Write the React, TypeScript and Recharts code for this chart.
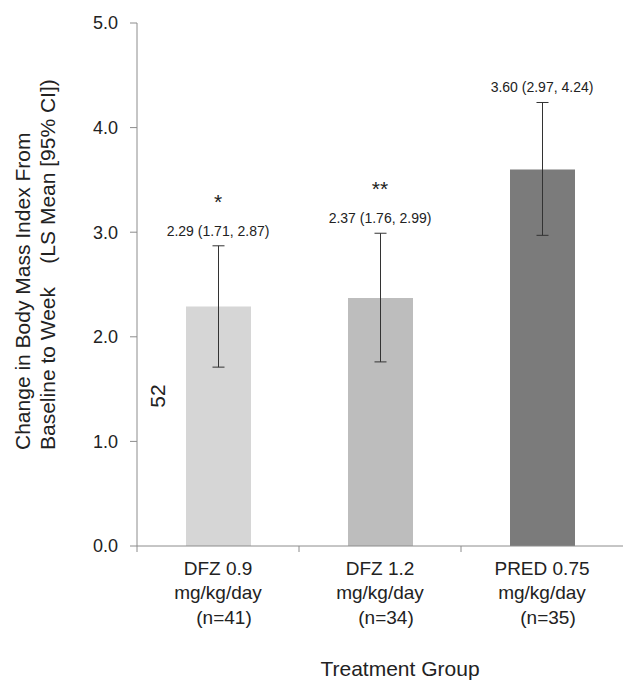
import { ComposedChart, Bar, Line, XAxis, YAxis, ErrorBar, Cell, LabelList } from "recharts";

const groups = ["DFZ 0.9", "DFZ 1.2", "PRED 0.75"];
const doses = ["mg/kg/day", "mg/kg/day", "mg/kg/day"];
const nCounts = [41, 34, 35];
const means = [2.29, 2.37, 3.6];
const lower = [1.71, 1.76, 2.97];
const upper = [2.87, 2.99, 4.24];
const stars = ["*", "**", ""];
const yTicks = [0, 1, 2, 3, 4, 5];
const barColors = ["#d6d6d6", "#bdbdbd", "#7b7b7b"];

const data = groups.map((g, i) => ({
  name: g,
  dose: doses[i],
  n: nCounts[i],
  mean: means[i],
  err: [means[i] - lower[i], upper[i] - means[i]],
  upper: upper[i],
  ci: `${means[i].toFixed(2)} (${lower[i].toFixed(2)}, ${upper[i].toFixed(2)})`,
  star: stars[i],
}));

const FONT = "'Liberation Sans', Arial, sans-serif";
const AXIS = "#8c8c8c";

function XTick(props: any) {
  const { x, y, payload, index } = props;
  const row = data[index];
  const half = payload.offset ?? 81;
  return (
    <g fontFamily={FONT} fontSize={19} fill="#222">
      <line x1={x - half} x2={x - half} y1={y} y2={y + 6} stroke={AXIS} />
      <text x={x} y={y + 29} textAnchor="middle">{row.name}</text>
      <text x={x} y={y + 53} textAnchor="middle">{row.dose}</text>
      <text x={x + 6} y={y + 78} textAnchor="middle">{`(n=${row.n})`}</text>
    </g>
  );
}

// axis titles sit at fixed spots, as in the source figure
function YLabel() {
  const bottom = 450;
  return (
    <g fontFamily={FONT} fontSize={21} fill="#222">
      <text x={22} y={bottom} transform={`rotate(-90 22 ${bottom})`} dominantBaseline="central">
        Change in Body Mass Index From
      </text>
      <text x={47} y={bottom} transform={`rotate(-90 47 ${bottom})`} dominantBaseline="central" style={{ whiteSpace: "pre" }}>
        {"Baseline to Week    (LS Mean [95% CI])"}
      </text>
      <text x={157} y={396} transform={`rotate(-90 157 396)`} textAnchor="middle" dominantBaseline="central">
        52
      </text>
    </g>
  );
}

function XLabel() {
  return (
    <text x={400} y={676} textAnchor="middle" fontFamily={FONT} fontSize={21} fill="#222">
      Treatment Group
    </text>
  );
}

function StarLabel(props: any) {
  const { x, y, value } = props;
  if (!value) return null;
  return (
    <text x={x} y={y - 37} textAnchor="middle" fontFamily={FONT} fontSize={21} fill="#222">
      {value}
    </text>
  );
}

export default function App() {
  return (
    <div style={{ position: "absolute", left: 0, top: 0, background: "#fff" }}>
      <ComposedChart
        width={623}
        height={682}
        data={data}
        margin={{ top: 23, right: 0, left: 0, bottom: 0 }}
      >
        <XAxis
          dataKey="name"
          axisLine={{ stroke: AXIS }}
          tickLine={false}
          tickSize={0}
          tickMargin={0}
          tick={<XTick />}
          interval={0}
          height={136}
          label={{ content: <XLabel /> }}
        />
        <YAxis
          width={137}
          domain={[0, 5]}
          ticks={yTicks}
          tickFormatter={(v: number) => v.toFixed(1)}
          axisLine={{ stroke: AXIS }}
          tickLine={{ stroke: AXIS }}
          tickSize={7}
          tickMargin={12}
          tick={{ fill: "#222", fontSize: 18, fontFamily: FONT }}
          label={{ content: <YLabel /> }}
        />
        <Bar dataKey="mean" barSize={65} isAnimationActive={false}>
          {data.map((d, i) => (
            <Cell key={d.name} fill={barColors[i]} />
          ))}
          <ErrorBar dataKey="err" width={6} stroke="#333" strokeWidth={1} direction="y" />
        </Bar>
        <Line
          dataKey="upper"
          stroke="none"
          dot={false}
          activeDot={false}
          legendType="none"
          isAnimationActive={false}
        >
          <LabelList dataKey="ci" position="top" offset={10} fill="#222" fontSize={14} fontFamily={FONT} />
          <LabelList dataKey="star" content={<StarLabel />} />
        </Line>
      </ComposedChart>
    </div>
  );
}
